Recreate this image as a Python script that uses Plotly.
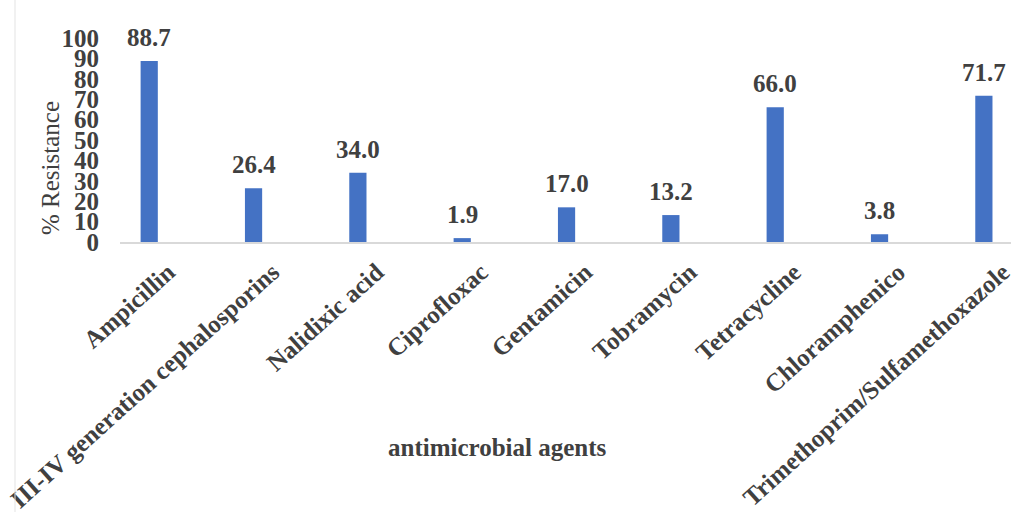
import plotly.graph_objects as go

# Resistance of isolates to each antimicrobial agent (%)
agents = [
    "Ampicillin",
    "III-IV generation cephalosporins",
    "Nalidixic acid",
    "Ciprofloxac",
    "Gentamicin",
    "Tobramycin",
    "Tetracycline",
    "Chloramphenico",
    "Trimethoprim/Sulfamethoxazole",
]
resistance = [88.7, 26.4, 34.0, 1.9, 17.0, 13.2, 66.0, 3.8, 71.7]
y_ticks = [0, 10, 20, 30, 40, 50, 60, 70, 80, 90, 100]

SERIF = "Liberation Serif, Times New Roman, serif"
TEXT = "#404040"
BAR = "#4472C4"

W, H = 1011, 512
ML, MR, MT, MB = 120, 0, 38, 270
PW, PH = W - ML - MR, H - MT - MB

fig = go.Figure(
    go.Bar(
        x=agents,
        y=resistance,
        width=0.165,
        marker=dict(color=BAR, line=dict(width=0)),
        hoverinfo="x+y",
    )
)

# value labels above each bar
for name, v in zip(agents, resistance):
    fig.add_annotation(
        x=name, y=v, text=f"<b>{v:.1f}</b>", showarrow=False,
        yanchor="bottom", yshift=8,
        font=dict(family=SERIF, size=25, color=TEXT),
    )

# y-axis title
fig.add_annotation(
    xref="paper", yref="paper", x=(50 - ML) / PW, y=(H - MB - 168) / PH,
    text="% Resistance", textangle=-90, showarrow=False,
    xanchor="center", yanchor="middle",
    font=dict(family=SERIF, size=25, color=TEXT),
)

# x-axis title
fig.add_annotation(
    xref="paper", yref="paper", x=(497 - ML) / PW,
    y=-(447 - (H - MB)) / PH,
    text="<b>antimicrobial agents</b>", showarrow=False,
    xanchor="center", yanchor="middle",
    font=dict(family=SERIF, size=25, color=TEXT),
)

# thin frame line at the left edge
fig.add_shape(
    type="line", xref="paper", yref="paper",
    x0=(15 - ML) / PW, x1=(15 - ML) / PW,
    y0=-MB / PH, y1=1 + MT / PH,
    line=dict(color="#e3e3e3", width=1),
)

fig.update_layout(
    width=W, height=H,
    margin=dict(l=ML, r=MR, t=MT, b=MB, autoexpand=False),
    paper_bgcolor="white", plot_bgcolor="white",
    showlegend=False,
    xaxis=dict(
        type="category",
        range=[-0.28, 8.26],
        automargin=False,
        showgrid=False, zeroline=False,
        showline=True, linecolor="#d9d9d9", linewidth=1.5,
        ticks="", tickangle=-42,
        ticklabelshift=19, ticklabelstandoff=4,
        tickfont=dict(family=SERIF, size=25, color=TEXT, weight="bold"),
    ),
    yaxis=dict(
        range=[0, 100],
        tickvals=y_ticks,
        automargin=False,
        showgrid=False, zeroline=False, showline=False,
        ticks="", ticklabelstandoff=20,
        tickfont=dict(family=SERIF, size=25, color=TEXT, weight="bold"),
    ),
)

fig.write_html("out.html")
